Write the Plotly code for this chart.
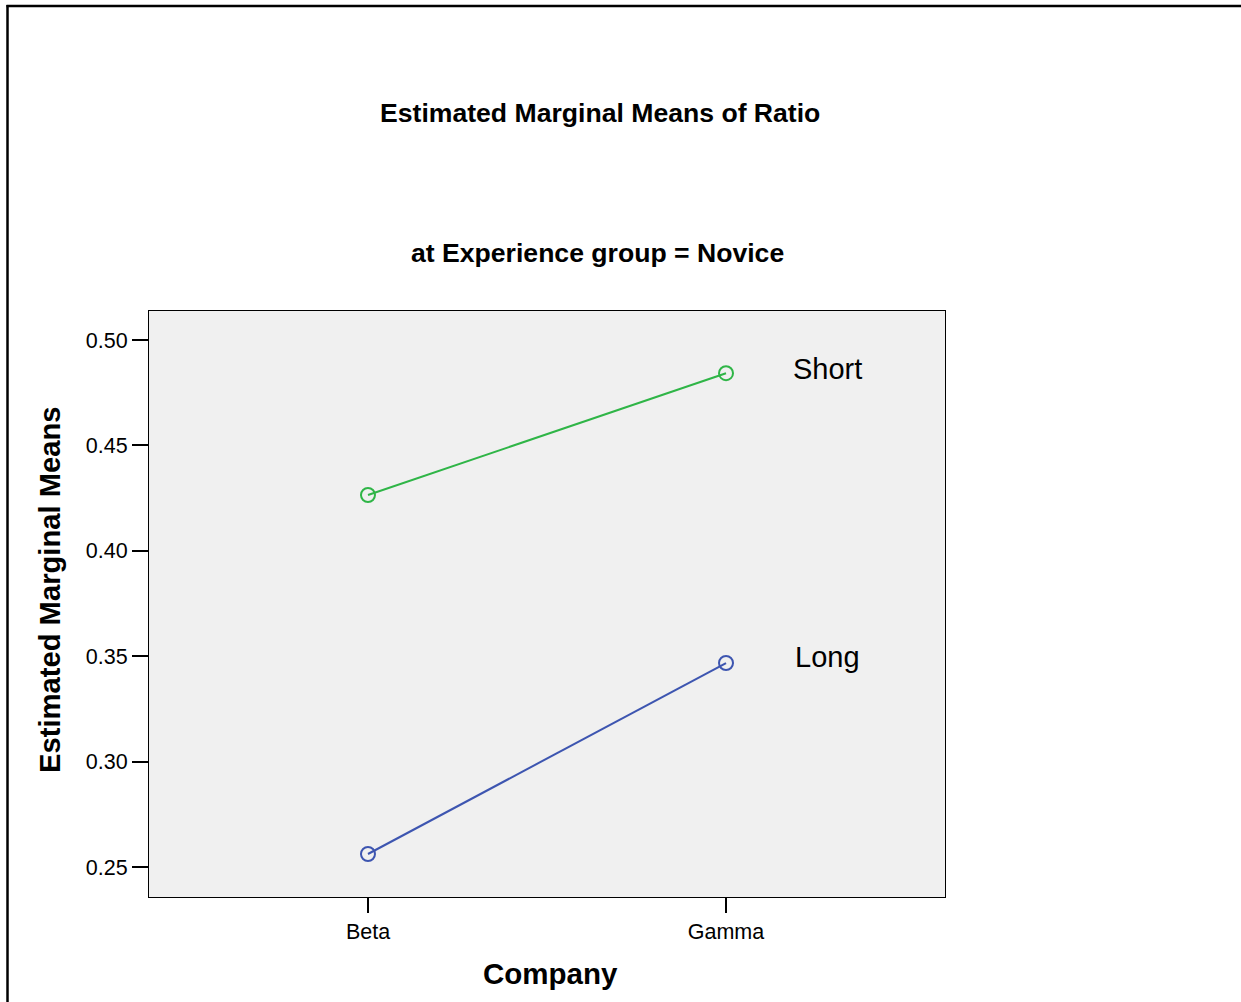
import plotly.graph_objects as go

companies = ["Beta", "Gamma"]
short_means = [0.4265, 0.4843]
long_means = [0.2562, 0.3468]
series_names = ["Short", "Long"]
y_ticks = [0.25, 0.30, 0.35, 0.40, 0.45, 0.50]

GREEN = "#2fb547"
BLUE = "#3d55b0"
FONT = "Liberation Sans, Arial, sans-serif"

fig = go.Figure()
for name, vals, col in [(series_names[0], short_means, GREEN), (series_names[1], long_means, BLUE)]:
    fig.add_trace(go.Scatter(
        x=[0, 1], y=vals, mode="lines+markers", name=name,
        line=dict(color=col, width=2),
        marker=dict(symbol="circle-open", size=14, color=col, line=dict(width=2)),
        showlegend=False, hoverinfo="skip",
    ))

# series labels beside the last point
for name, vals, ys in [(series_names[0], short_means, 4), (series_names[1], long_means, 6)]:
    fig.add_annotation(x=1, y=vals[-1], xref="x", yref="y", text=name, showarrow=False,
                       xshift=101, yshift=ys, font=dict(family=FONT, size=29, color="black"))

W, H = 1241, 1002
L, R, T, B = 149, 945, 311, 897
pw, ph = R - L, B - T

def px(xp):
    return (xp - L) / pw

def py(yp):
    return (B - yp) / ph

fig.add_annotation(x=px(600), y=py(113), xref="paper", yref="paper", text="<b>Estimated Marginal Means of Ratio</b>",
                   showarrow=False, xanchor="center", yanchor="middle", font=dict(family=FONT, size=26.6, color="black"))
fig.add_annotation(x=px(597), y=py(253), xref="paper", yref="paper", text="<b>at Experience group = Novice</b>",
                   showarrow=False, xanchor="center", yanchor="middle", font=dict(family=FONT, size=26.6, color="black"))
fig.add_annotation(x=px(550), y=py(973), xref="paper", yref="paper", text="<b>Company</b>",
                   showarrow=False, xanchor="center", yanchor="middle", font=dict(family=FONT, size=29.5, color="black"))
fig.add_annotation(x=px(50), y=py(590), xref="paper", yref="paper", text="<b>Estimated Marginal Means</b>",
                   showarrow=False, textangle=-90, xanchor="center", yanchor="middle", font=dict(family=FONT, size=29.2, color="black"))

# outer frame (left and top edges visible)
fig.add_shape(type="line", xref="paper", yref="paper", x0=px(7.5), x1=px(7.5), y0=py(5), y1=py(1010),
              line=dict(color="black", width=2.5))
fig.add_shape(type="line", xref="paper", yref="paper", x0=px(6.5), x1=px(1250), y0=py(6), y1=py(6),
              line=dict(color="black", width=2.5))

fig.update_layout(
    width=W, height=H,
    margin=dict(l=L, r=W - R, t=T, b=H - B, pad=0),
    paper_bgcolor="white", plot_bgcolor="#f0f0f0",
    font=dict(family=FONT, color="black"),
)
fig.update_xaxes(
    range=[-0.6117, 1.6117], tickmode="array", tickvals=[0, 1], ticktext=companies,
    ticks="outside", ticklen=15, tickwidth=2, tickcolor="black",
    showline=True, linecolor="black", linewidth=1, mirror=True,
    showgrid=False, zeroline=False, tickfont=dict(size=21.5, family=FONT, color="black"),
)
fig.update_yaxes(
    range=[0.2358, 0.5138], tickmode="array", tickvals=y_ticks,
    ticktext=[f"{v:.2f}" for v in y_ticks],
    ticks="outside", ticklen=16, tickwidth=2, tickcolor="black",
    showline=True, linecolor="black", linewidth=1, mirror=True,
    showgrid=False, zeroline=False, tickfont=dict(size=21.5, family=FONT, color="black"),
)

fig.write_html("out.html", config={"displayModeBar": False},
               post_script="document.body.style.margin='0';document.body.style.overflow='hidden';")
